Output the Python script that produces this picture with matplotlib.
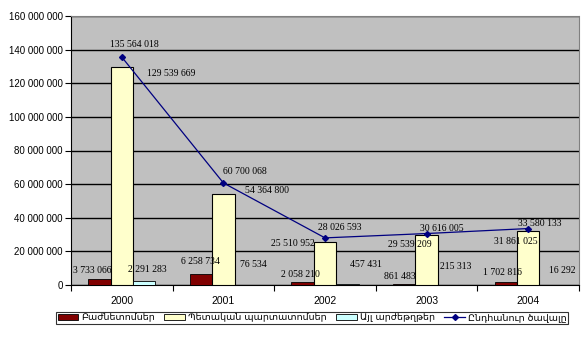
import numpy as np
import matplotlib
matplotlib.use('Agg')
import matplotlib.pyplot as plt
from matplotlib.patches import Patch
from matplotlib.lines import Line2D
from matplotlib.ticker import FuncFormatter, FixedLocator

# data
years = ['2000', '2001', '2002', '2003', '2004']
shares = [3733066, 6258734, 2058210, 861483, 1702816]
gov_bonds = [129539669, 54364800, 25510952, 29539209, 31861025]
other = [2291283, 76534, 457431, 215313, 16292]
total = [135564018, 60700068, 28026593, 30616005, 33580133]
series_names = ['Բաժնետոմսեր', 'Պետական պարտատոմսեր', 'Այլ արժեթղթեր', 'Ընդհանուր ծավալը']

# label offsets in pixels (dx, dy) from the bar top / point
off_shares = [(-7, 8), (-1, 13), (-2, 7), (-4, 7), (-3, 10)]
off_gov = [(49, -6), (44, 3), (-32, -1), (-17, -9), (-12, -10)]
off_other = [(3, 12), (8, 20), (19, 20), (7, 18), (12, 14)]
off_total = [(13, 13), (21, 11), (15, 10), (15, 5), (12, 5)]

def fmt(v):
    return f"{int(v):,}".replace(',', ' ')

fig = plt.figure(figsize=(5.88, 3.52), dpi=100)
ax = fig.add_axes([71/588, 67/352, 508/588, 269/352])
ax.set_facecolor('#c0c0c0')

x = np.arange(len(years))
w = 0.22
ax.bar(x - w, shares, w, color='#800000', edgecolor='black', linewidth=0.6, zorder=3)
ax.bar(x, gov_bonds, w, color='#ffffcc', edgecolor='black', linewidth=0.8, zorder=3)
ax.bar(x + w, other, w, color='#ccffff', edgecolor='black', linewidth=0.6, zorder=3)
ax.plot(x, total, color='#000080', linewidth=0.9, marker='D', markersize=3, zorder=4)

lab_font = dict(family='Liberation Serif', fontsize=7, color='black')
for xs, vals, offs in [(x - w, shares, off_shares), (x, gov_bonds, off_gov),
                       (x + w, other, off_other), (x, total, off_total)]:
    for xi, v, (dx, dy) in zip(xs, vals, offs):
        ax.annotate(fmt(v), (xi, v), xytext=(dx, dy), textcoords='offset pixels',
                    ha='center', va='center', zorder=5, **lab_font)

ax.set_ylim(0, 160000000)
ax.set_xlim(-0.5, len(years) - 0.5)
ax.set_yticks(np.arange(0, 160000001, 20000000))
ax.yaxis.set_major_formatter(FuncFormatter(lambda v, p: fmt(v)))
ax.yaxis.grid(True, color='black', linewidth=1.0, zorder=1)
ax.set_axisbelow(True)

ax.set_xticks(x)
ax.set_xticklabels(years)
ax.xaxis.set_minor_locator(FixedLocator(np.arange(-0.5, len(years), 1.0)))
ax.tick_params(axis='x', which='major', length=0, pad=8)
ax.tick_params(axis='x', which='minor', length=4, width=0.8, direction='out')
ax.tick_params(axis='y', length=4, width=0.8, direction='out', pad=2)
for t in ax.get_xticklabels():
    t.set_family('Liberation Sans')
    t.set_fontsize(7.5)
for t in ax.get_yticklabels():
    t.set_family('Liberation Sans')
    t.set_fontsize(7)

for s in ['top', 'right']:
    ax.spines[s].set_color('#808080')
    ax.spines[s].set_linestyle((0, (1, 1)))
    ax.spines[s].set_linewidth(0.8)
ax.spines['left'].set_linewidth(0.8)
ax.spines['bottom'].set_linewidth(0.8)

handles = [Patch(facecolor='#800000', edgecolor='black', linewidth=0.6),
           Patch(facecolor='#ffffcc', edgecolor='black', linewidth=0.6),
           Patch(facecolor='#ccffff', edgecolor='black', linewidth=0.6),
           Line2D([], [], color='#000080', linewidth=0.9, marker='D', markersize=3)]
leg = fig.legend(handles, series_names, loc='center', bbox_to_anchor=(312/588, 1 - 318/352),
                 ncol=4, frameon=True, fancybox=False, edgecolor='black',
                 prop={'family': 'DejaVu Sans', 'size': 6.8},
                 handlelength=2.2, handleheight=0.6, handletextpad=0.3, columnspacing=1.0,
                 borderpad=0.2, borderaxespad=0)
leg.get_frame().set_linewidth(0.8)

fig.savefig('out.png', dpi=100)
